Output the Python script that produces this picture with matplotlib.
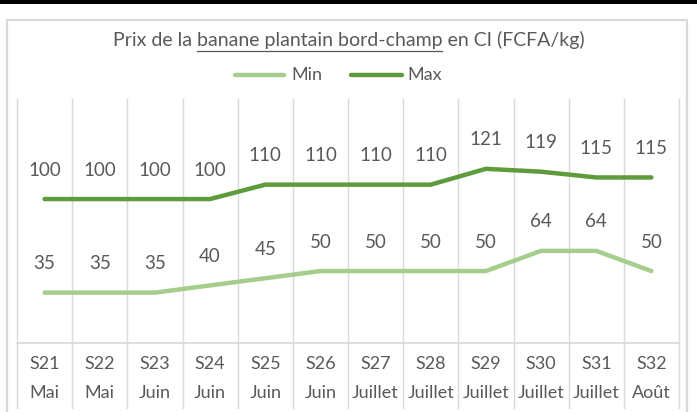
import matplotlib
matplotlib.use("Agg")
import matplotlib.pyplot as plt
from matplotlib.patches import Rectangle
from matplotlib.lines import Line2D

weeks = ["S21", "S22", "S23", "S24", "S25", "S26", "S27", "S28", "S29", "S30", "S31", "S32"]
months = ["Mai", "Mai", "Juin", "Juin", "Juin", "Juin", "Juillet", "Juillet", "Juillet", "Juillet", "Juillet", "Août"]
min_vals = [35, 35, 35, 40, 45, 50, 50, 50, 50, 64, 64, 50]
max_vals = [100, 100, 100, 100, 110, 110, 110, 110, 121, 119, 115, 115]

FONT = "Lato"
TXT = "#595959"
GRID = "#D9D9D9"
C_MIN = "#A5CD8C"
C_MAX = "#5E9B3C"

W, H = 697, 412
fig = plt.figure(figsize=(W / 100, H / 100), dpi=100)
fig.patch.set_facecolor("white")

def fx(px):
    return px / W

def fy(py):
    return 1 - py / H

# top black bar
fig.patches.append(Rectangle((0, fy(3.5)), 1, 3.5 / H, transform=fig.transFigure,
                             facecolor="black", edgecolor="none"))
# chart outer border (bottom cut off)
fig.lines.append(Line2D([fx(7), fx(7), fx(687), fx(687)], [fy(415), fy(19.5), fy(19.5), fy(415)],
                        transform=fig.transFigure, color=GRID, lw=1.6))

left, right, top, bottom = 17, 679, 99, 343
ax = fig.add_axes([fx(left), fy(bottom), fx(right - left), (bottom - top) / H])
ax.set_xlim(-0.5, len(weeks) - 0.5)
ax.set_ylim(0, 169.5)
for s in ax.spines.values():
    s.set_visible(False)
ax.set_xticks([])
ax.set_yticks([])
ax.patch.set_alpha(0)

x = list(range(len(weeks)))
xt = ax.get_xaxis_transform()
ybot = (bottom - 408) / (bottom - top)
for b in [i - 0.5 for i in range(len(weeks) + 1)]:
    ax.plot([b, b], [1, ybot], transform=xt, color=GRID, lw=1.0, clip_on=False, zorder=1)
ax.plot([-0.5, len(weeks) - 0.5], [0, 0], transform=xt, color=GRID, lw=1.2, clip_on=False, zorder=1)

ax.plot(x, min_vals, color=C_MIN, lw=3.2, solid_capstyle="round", zorder=3)
ax.plot(x, max_vals, color=C_MAX, lw=3.2, solid_capstyle="round", zorder=3)

for xi, v in zip(x, min_vals):
    ax.annotate(str(v), (xi, v), xytext=(0, 29), textcoords="offset pixels",
                ha="center", va="center", fontsize=13.5, color=TXT, family=FONT)
for xi, v in zip(x, max_vals):
    ax.annotate(str(v), (xi, v), xytext=(0, 29), textcoords="offset pixels",
                ha="center", va="center", fontsize=13.5, color=TXT, family=FONT)

yw = (bottom - 364) / (bottom - top)
ym = (bottom - 393) / (bottom - top)
for xi, w, m in zip(x, weeks, months):
    ax.text(xi, yw, w, transform=xt, ha="center", va="center", fontsize=13, color=TXT, family=FONT)
    ax.text(xi, ym, m, transform=xt, ha="center", va="center", fontsize=13, color=TXT, family=FONT)

# title with underlined part
prefix = "Prix de la "
under = "banane plantain bord-champ"
suffix = " en CI (FCFA/kg)"
full = prefix + under + suffix
tsize = 14
title = fig.text(0.5, fy(40), full, ha="center", va="center", fontsize=tsize, color=TXT, family=FONT)
fig.canvas.draw()
r = fig.canvas.get_renderer()

def width(s):
    t = fig.text(0, 0, s, fontsize=tsize, family=FONT)
    w = t.get_window_extent(r).width
    t.remove()
    return w

bb = title.get_window_extent(r)
w_pu = width(prefix + under)
w_u = width(under)
x0 = bb.x0 + w_pu - w_u
x1 = bb.x0 + w_pu
yl = H - 51
fig.lines.append(Line2D([x0 / W, x1 / W], [yl / H, yl / H], transform=fig.transFigure,
                        color=TXT, lw=0.9))

# legend
ly = fy(75)
fig.lines.append(Line2D([fx(235), fx(284)], [ly, ly], transform=fig.transFigure, color=C_MIN,
                        lw=3.2, solid_capstyle="round"))
fig.text(fx(291), ly, "Min", ha="left", va="center", fontsize=13, color=TXT, family=FONT)
fig.lines.append(Line2D([fx(351), fx(402)], [ly, ly], transform=fig.transFigure, color=C_MAX,
                        lw=3.2, solid_capstyle="round"))
fig.text(fx(407), ly, "Max", ha="left", va="center", fontsize=13, color=TXT, family=FONT)

fig.savefig("out.png", dpi=100)
